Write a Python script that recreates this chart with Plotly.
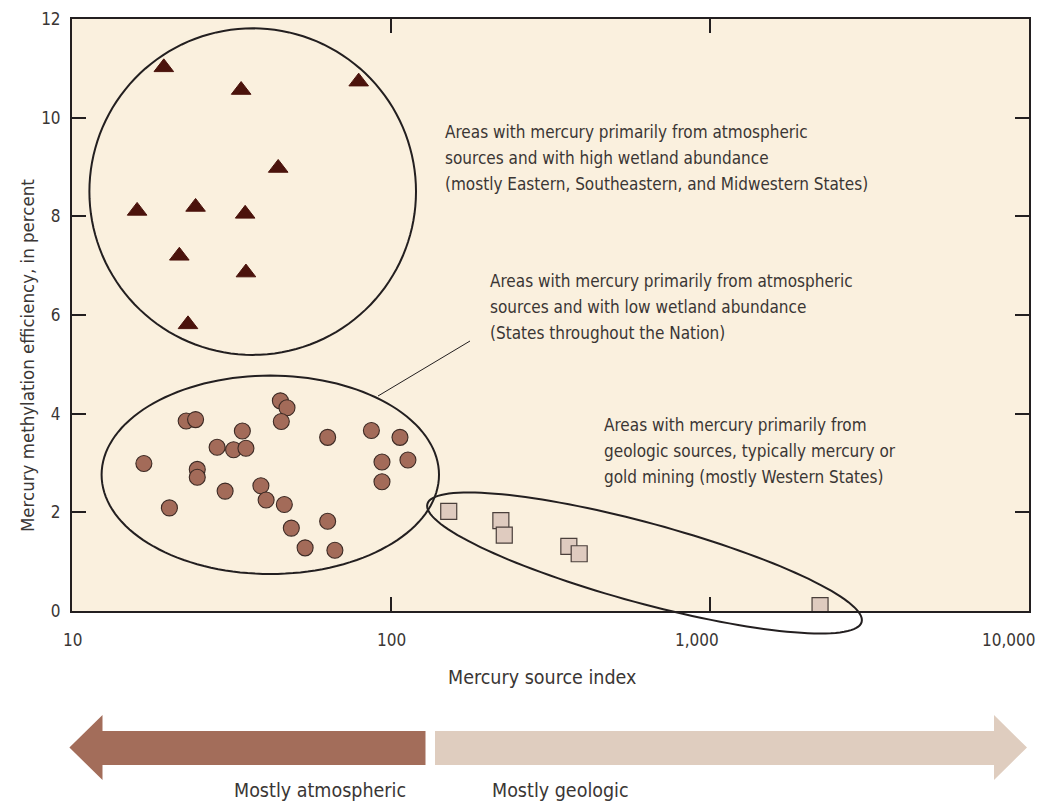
import numpy as np
import plotly.graph_objects as go

# ---------------- data ----------------
tri_x = [19.4, 33.9, 79.2, 44.3, 16.0, 24.4, 34.9, 21.7, 35.1, 23.1]
tri_y = [11.02, 10.56, 10.73, 8.98, 8.11, 8.19, 8.05, 7.20, 6.86, 5.81]

circ_x = [16.8, 22.8, 24.4, 34.2, 28.5, 32.1, 35.1, 45.0, 47.2, 45.3, 63.3, 86.8, 106.7,
          93.7, 113.0, 93.7, 24.7, 24.7, 30.2, 20.2, 39.1, 40.6, 46.3, 48.7, 63.3, 53.8, 66.7]
circ_y = [2.99, 3.85, 3.88, 3.65, 3.32, 3.27, 3.30, 4.26, 4.12, 3.84, 3.52, 3.66, 3.52,
          3.02, 3.06, 2.62, 2.87, 2.71, 2.43, 2.09, 2.54, 2.25, 2.16, 1.68, 1.82, 1.28, 1.23]

sq_x = [151.7, 221.0, 226.5, 361.0, 389.0, 2213.0]
sq_y = [2.02, 1.83, 1.54, 1.31, 1.16, 0.11]

x_tickvals = [10, 100, 1000, 10000]
x_ticktext = ["10", "100", "1,000", "10,000"]
y_tickvals = [0, 2, 4, 6, 8, 10, 12]

notes = [
    ["Areas with mercury primarily from atmospheric",
     "sources and with high wetland abundance",
     "(mostly Eastern, Southeastern, and Midwestern States)"],
    ["Areas with mercury primarily from atmospheric",
     "sources and with low wetland abundance",
     "(States throughout the Nation)"],
    ["Areas with mercury primarily from",
     "geologic sources, typically mercury or",
     "gold mining (mostly Western States)"],
]
arrow_labels = ["Mostly atmospheric", "Mostly geologic"]
x_title = "Mercury source index"
y_title = "Mercury methylation efficiency, in percent"

# ---------------- layout geometry ----------------
FW, FH = 1037, 803
L, T, R, B = 72, 19, 8, 192
PW, PH = FW - L - R, FH - T - B

def pxx(x):
    return (x - L) / PW

def pyy(y):
    return (T + PH - y) / PH

def ellipse_path(cx, cy, a, b, ang_deg, n=140):
    th = np.radians(ang_deg)
    t = np.linspace(0, 2 * np.pi, n, endpoint=False)
    xs = cx + a * np.cos(t) * np.cos(th) - b * np.sin(t) * np.sin(th)
    ys = cy + a * np.cos(t) * np.sin(th) + b * np.sin(t) * np.cos(th)
    pts = [f"{pxx(x):.5f},{pyy(y):.5f}" for x, y in zip(xs, ys)]
    return "M " + " L ".join(pts) + " Z"

def poly_path(points):
    pts = [f"{pxx(x):.5f},{pyy(y):.5f}" for x, y in points]
    return "M " + " L ".join(pts) + " Z"

FONT = "DejaVu Sans Condensed, Liberation Sans Narrow, sans-serif"
INK = "#231f20"
TXT = "#3a3634"
FS = 17

fig = go.Figure()

fig.add_trace(go.Scatter(
    x=circ_x, y=circ_y, mode="markers",
    marker=dict(symbol="circle", size=16, color="#a36b59",
                line=dict(color="#3c2a24", width=1.1)),
    hoverinfo="skip", showlegend=False))
fig.add_trace(go.Scatter(
    x=tri_x, y=tri_y, mode="markers",
    marker=dict(symbol="triangle-up", size=17, color="#4b130c",
                line=dict(color="#4b130c", width=1)),
    hoverinfo="skip", showlegend=False))
fig.add_trace(go.Scatter(
    x=sq_x, y=sq_y, mode="markers",
    marker=dict(symbol="square", size=16, color="#dfcbbf",
                line=dict(color="#4a3f3b", width=1.2)),
    hoverinfo="skip", showlegend=False))

shapes = []
ell_line = dict(color=INK, width=2)
shapes.append(dict(type="path", xref="paper", yref="paper",
                   path=ellipse_path(252.7, 191.6, 163.3, 163.3, 0), line=ell_line, layer="above"))
shapes.append(dict(type="path", xref="paper", yref="paper",
                   path=ellipse_path(270.3, 474.8, 168.7, 99.2, 0), line=ell_line, layer="above"))
shapes.append(dict(type="path", xref="paper", yref="paper",
                   path=ellipse_path(644.5, 563, 225, 40, 15.2), line=ell_line, layer="above"))
# leader line
shapes.append(dict(type="line", xref="paper", yref="paper",
                   x0=pxx(378), y0=pyy(396), x1=pxx(470), y1=pyy(341),
                   line=dict(color=INK, width=1)))
# arrows
shapes.append(dict(type="path", xref="paper", yref="paper",
                   path=poly_path([(425.5, 731), (102.5, 731), (102.5, 715), (69.4, 747.5),
                                   (102.5, 780), (102.5, 765), (425.5, 765)]),
                   fillcolor="#a36d5a", line=dict(width=0)))
shapes.append(dict(type="path", xref="paper", yref="paper",
                   path=poly_path([(435, 731), (994, 731), (994, 715), (1027, 747.5),
                                   (994, 780), (994, 765), (435, 765)]),
                   fillcolor="#dfcdbf", line=dict(width=0)))

annotations = []
# x tick labels, placed through the x axis scale (the last two sit slightly left of their ticks)
x_label_shift = [0, 0, -13, -20]
for v, txt, sh in zip(x_tickvals, x_ticktext, x_label_shift):
    annotations.append(dict(text=txt, xref="x", yref="paper", x=np.log10(v), y=pyy(640),
                            xanchor="center", yanchor="middle", xshift=sh, showarrow=False,
                            font=dict(family=FONT, size=FS, color=TXT)))
note_pos = [(443, [131.5, 157.5, 183.5]), (487.7, [281, 307, 333]), (601.7, [425, 451, 477])]
for lines, (x, ys) in zip(notes, note_pos):
    for line, y in zip(lines, ys):
        annotations.append(dict(text=line, xref="paper", yref="paper", x=pxx(x), y=pyy(y),
                                xanchor="left", yanchor="middle", align="left", showarrow=False,
                                font=dict(family=FONT, size=FS, color=TXT)))
for txt, (x, y) in zip(arrow_labels, [(320, 791), (560.5, 791)]):
    annotations.append(dict(text=txt, xref="paper", yref="paper", x=pxx(x), y=pyy(y),
                            xanchor="center", yanchor="middle", showarrow=False,
                            font=dict(family=FONT, size=19.5, color=TXT)))
annotations.append(dict(text=x_title, xref="paper", yref="paper",
                        x=pxx(542), y=pyy(677), xanchor="center", yanchor="middle",
                        showarrow=False, font=dict(family=FONT, size=19.5, color=TXT)))
annotations.append(dict(text=y_title, xref="paper", yref="paper",
                        x=pxx(27), y=pyy(356), xanchor="center", yanchor="middle", textangle=-90,
                        showarrow=False, font=dict(family=FONT, size=18.5, color=TXT)))

fig.update_layout(
    width=FW, height=FH,
    margin=dict(l=L, r=R, t=T, b=B, pad=0, autoexpand=False),
    paper_bgcolor="white", plot_bgcolor="#faf0de",
    shapes=shapes, annotations=annotations,
    showlegend=False,
    font=dict(family=FONT, color=TXT),
)
fig.update_xaxes(type="log", range=[1, 4], tickvals=x_tickvals, showticklabels=False,
                 ticks="inside", ticklen=14, tickwidth=1.5, tickcolor=INK,
                 showline=True, linecolor=INK, linewidth=2, mirror="ticks",
                 showgrid=False, zeroline=False, automargin=False)
fig.update_yaxes(range=[0, 12], tickvals=y_tickvals,
                 ticks="inside", ticklen=14, tickwidth=1.5, tickcolor=INK,
                 showline=True, linecolor=INK, linewidth=2, mirror="ticks",
                 showgrid=False, zeroline=False, ticklabelstandoff=6, automargin=False,
                 tickfont=dict(family=FONT, size=FS, color=TXT))

fig.write_html("out.html", config={"displayModeBar": False},
               post_script="document.body.style.margin='0';document.body.style.overflow='hidden';")
